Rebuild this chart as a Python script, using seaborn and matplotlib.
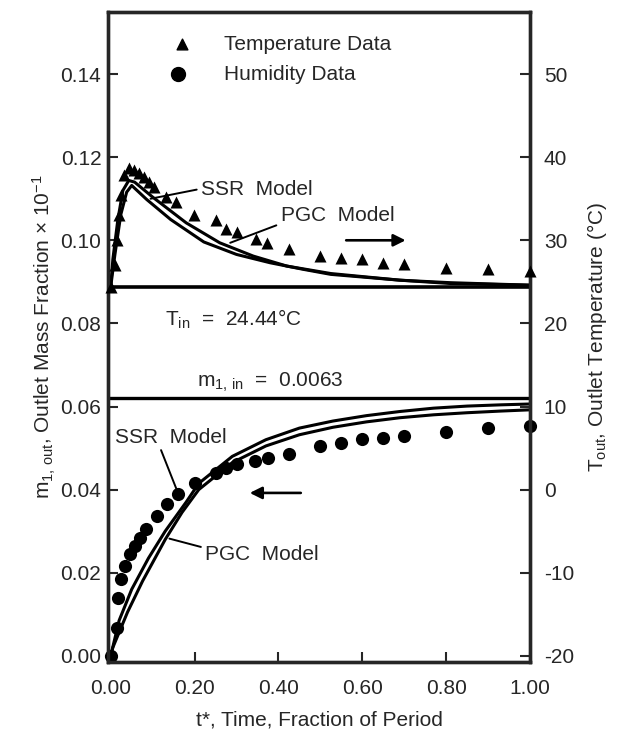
import matplotlib
matplotlib.use("Agg")
import matplotlib.pyplot as plt
import seaborn as sns
import numpy as np
import pandas as pd

# ---------------- data ----------------
# Temperature data (right axis, deg C)
temp_t = [0.0, 0.01, 0.015, 0.02, 0.025, 0.031, 0.043, 0.055, 0.067, 0.079, 0.091,
          0.103, 0.131, 0.155, 0.198, 0.25, 0.274, 0.30, 0.346, 0.372, 0.425, 0.50,
          0.55, 0.60, 0.65, 0.70, 0.80, 0.90, 1.00]
temp_T = [24.44, 27.0, 30.0, 33.0, 35.5, 37.8, 38.7, 38.4, 38.1, 37.6, 37.0,
          36.4, 35.2, 34.6, 33.1, 32.5, 31.3, 31.0, 30.1, 29.7, 29.0, 28.1,
          27.9, 27.7, 27.3, 27.1, 26.7, 26.5, 26.3]

# Humidity data (left axis, mass fraction x 10^-1)
hum_t = [0.0, 0.015, 0.018, 0.025, 0.033, 0.045, 0.057, 0.07, 0.085, 0.11, 0.135,
         0.16, 0.20, 0.25, 0.275, 0.30, 0.345, 0.375, 0.425, 0.50, 0.55, 0.60,
         0.65, 0.70, 0.80, 0.90, 1.00]
hum_m = [0.0, 0.0067, 0.014, 0.0185, 0.0217, 0.0245, 0.0265, 0.0284, 0.0305, 0.0337,
         0.0366, 0.039, 0.0416, 0.044, 0.0452, 0.0462, 0.0469, 0.0476, 0.0486, 0.0505,
         0.0512, 0.0522, 0.0524, 0.0529, 0.0539, 0.0548, 0.0553]

# Model curves - temperature
ssr_T_t = [0.0, 0.005, 0.017, 0.029, 0.043, 0.057, 0.10, 0.18, 0.26, 0.34, 0.42,
           0.525, 0.69, 0.81, 1.0]
ssr_T = [24.44, 27.7, 32.5, 36.0, 37.2, 37.0, 35.2, 32.1, 29.7, 28.1, 26.9,
         26.0, 25.2, 24.9, 24.6]
pgc_T_t = [0.0, 0.01, 0.024, 0.038, 0.05, 0.086, 0.143, 0.222, 0.30, 0.38, 0.46,
           0.525, 0.69, 0.81, 1.0]
pgc_T = [24.44, 28.3, 33.1, 35.8, 36.6, 34.9, 32.5, 29.8, 28.3, 27.3, 26.5,
         25.9, 25.2, 24.8, 24.6]

# Model curves - humidity
ssr_m_t = [0.0, 0.02, 0.05, 0.09, 0.13, 0.18, 0.21, 0.29, 0.37, 0.45, 0.53, 0.61,
           0.69, 0.77, 0.85, 0.93, 1.0]
ssr_m = [0.0, 0.0085, 0.016, 0.0235, 0.030, 0.037, 0.0415, 0.048, 0.052, 0.0548,
         0.0565, 0.0578, 0.0588, 0.0596, 0.0601, 0.0604, 0.0606]
pgc_m_t = [0.0, 0.005, 0.04, 0.076, 0.13, 0.17, 0.21, 0.29, 0.37, 0.45, 0.53, 0.61,
           0.69, 0.77, 0.85, 0.93, 1.0]
pgc_m = [0.0, 0.002, 0.0105, 0.018, 0.028, 0.0345, 0.040, 0.0465, 0.0505, 0.0532,
         0.055, 0.0563, 0.0573, 0.0580, 0.0585, 0.0589, 0.0592]

T_in = 24.44
m_in_line = 0.062

x_ticks = [0.0, 0.2, 0.4, 0.6, 0.8, 1.0]
left_ticks = [0.00, 0.02, 0.04, 0.06, 0.08, 0.10, 0.12, 0.14]
right_ticks = [-20, -10, 0, 10, 20, 30, 40, 50]

# ---------------- style ----------------
sns.set_style("ticks")
plt.rcParams['font.family'] = ['Liberation Sans', 'DejaVu Sans']
plt.rcParams['mathtext.fontset'] = 'custom'
plt.rcParams['mathtext.rm'] = 'Liberation Sans'
plt.rcParams['mathtext.it'] = 'Liberation Sans'
plt.rcParams['mathtext.bf'] = 'Liberation Sans:bold'

FS = 15
fig = plt.figure(figsize=(6.22, 7.36), dpi=100)
ax = fig.add_axes([0.174, 0.1005, 0.678, 0.8835])
ax2 = ax.twinx()

ylo, yhi = -0.0015, 0.155
ax.set_ylim(ylo, yhi)
ax2.set_ylim(500 * ylo - 20, 500 * yhi - 20)
ax.set_xlim(-0.006, 1.0)

lw = 2.2
# humidity models (left axis)
sns.lineplot(x=ssr_m_t, y=ssr_m, ax=ax, color='black', lw=lw, legend=False)
sns.lineplot(x=pgc_m_t, y=pgc_m, ax=ax, color='black', lw=lw, legend=False)
ax.axhline(m_in_line, color='black', lw=2.4)
sns.scatterplot(x=hum_t, y=hum_m, ax=ax, color='black', marker='o', s=90,
                edgecolor='black', linewidth=0, legend=False, zorder=5, clip_on=False)

# temperature models (right axis)
sns.lineplot(x=ssr_T_t, y=ssr_T, ax=ax2, color='black', lw=lw, legend=False)
sns.lineplot(x=pgc_T_t, y=pgc_T, ax=ax2, color='black', lw=lw, legend=False)
ax2.axhline(T_in, color='black', lw=2.6)
sns.scatterplot(x=temp_t, y=temp_T, ax=ax2, color='black', marker='^', s=75,
                edgecolor='black', linewidth=0, legend=False, zorder=5, clip_on=False)

# ticks
ax.set_xticks(x_ticks)
ax.set_xticklabels([f"{v:.2f}" for v in x_ticks], fontsize=FS)
ax.set_yticks(left_ticks)
ax.set_yticklabels([f"{v:.2f}" for v in left_ticks], fontsize=FS)
ax2.set_yticks(right_ticks)
ax2.set_yticklabels([str(v) for v in right_ticks], fontsize=FS)
ax.tick_params(axis='x', direction='in', length=7, width=1.5, pad=12)
ax.tick_params(axis='y', direction='in', length=7, width=1.5, pad=5)
ax2.tick_params(axis='y', direction='in', length=7, width=1.5, pad=10)
for a in (ax, ax2):
    for sp in a.spines.values():
        sp.set_linewidth(2.4)
        sp.set_visible(True)

ax.set_xlabel("t*, Time, Fraction of Period", fontsize=FS, labelpad=9)
ax.set_ylabel(r"m$_{1,\,\mathrm{out}}$, Outlet Mass Fraction $\times$ 10$^{-1}$",
              fontsize=FS, labelpad=2)
ax2.set_ylabel(r"T$_{\mathrm{out}}$, Outlet Temperature (°C)", fontsize=FS,
               labelpad=8, rotation=90)

# legend-like annotations
ax2.scatter([0.175], [0.95], marker='^', s=60, color='black', transform=ax.transAxes)
ax.text(0.275, 0.95, "Temperature Data", transform=ax.transAxes, fontsize=FS,
        va='center', ha='left')
ax.scatter([0.165], [0.904], marker='o', s=100, color='black', transform=ax.transAxes)
ax.text(0.275, 0.904, "Humidity Data", transform=ax.transAxes, fontsize=FS,
        va='center', ha='left')

# model labels (temperature)
ax2.text(0.215, 36.1, "SSR  Model", fontsize=FS, va='center', ha='left')
ax2.plot([0.095, 0.205], [35.0, 36.1], color='black', lw=1.4)
ax2.text(0.405, 33.0, "PGC  Model", fontsize=FS, va='center', ha='left')
ax2.plot([0.285, 0.395], [29.7, 31.8], color='black', lw=1.4)
ax2.annotate("", xy=(0.71, 30.0), xytext=(0.555, 30.0),
             arrowprops=dict(arrowstyle='-|>', color='black', lw=1.9,
                             mutation_scale=18))

ax2.text(0.13, 20.5, r"T$_{\mathrm{in}}$  =  24.44°C", fontsize=FS, va='center', ha='left')
ax.text(0.205, 0.0658, r"m$_{1,\,\mathrm{in}}$  =  0.0063", fontsize=FS, va='center', ha='left')

# model labels (humidity)
ax.text(0.01, 0.0525, "SSR  Model", fontsize=FS, va='center', ha='left')
ax.plot([0.12, 0.16], [0.0495, 0.0393], color='black', lw=1.4)
ax.text(0.225, 0.0245, "PGC  Model", fontsize=FS, va='center', ha='left')
ax.plot([0.14, 0.215], [0.0282, 0.0262], color='black', lw=1.4)
ax.annotate("", xy=(0.325, 0.0392), xytext=(0.46, 0.0392),
            arrowprops=dict(arrowstyle='-|>', color='black', lw=1.9,
                            mutation_scale=18))

fig.savefig("out.png", dpi=100)
